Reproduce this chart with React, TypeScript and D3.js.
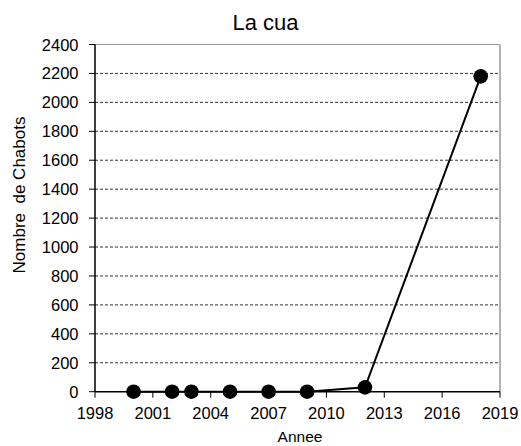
import React from "react";
import * as d3 from "d3";

const years = [2000, 2002, 2003, 2005, 2007, 2009, 2012, 2018];
const counts = [0, 0, 0, 0, 0, 0, 30, 2180];
const xTicks = [1998, 2001, 2004, 2007, 2010, 2013, 2016, 2019];
const yTicks = [0, 200, 400, 600, 800, 1000, 1200, 1400, 1600, 1800, 2000, 2200, 2400];

export default function App() {
  const W = 521, H = 446;
  const left = 95, right = 500, top = 44.5, bottom = 391.7;
  const x = d3.scaleLinear().domain([1998, 2019]).range([left, right]);
  const y = d3.scaleLinear().domain([0, 2400]).range([bottom, top]);
  const line = d3.line<number>().x((_, i) => x(years[i])).y((d) => y(d));
  const font = "Liberation Sans, Arial, sans-serif";
  return (
    <svg width={W} height={H} style={{ position: "absolute", left: 0, top: 0 }} fontFamily={font}>
      <rect width={W} height={H} fill="white" />
      <text x={265.5} y={30} textAnchor="middle" fontSize={22}>La cua</text>
      {yTicks.filter((t) => t > 0 && t < 2400).map((t) => (
        <line key={t} x1={left} x2={right} y1={y(t)} y2={y(t)} stroke="#000" strokeWidth={0.8} strokeDasharray="3,2" />
      ))}
      <line x1={left} x2={right} y1={top} y2={top} stroke="#999" strokeWidth={1.2} />
      <line x1={right} x2={right} y1={top} y2={bottom} stroke="#999" strokeWidth={1.5} />
      <line x1={left} x2={left} y1={top} y2={bottom} stroke="#000" strokeWidth={1.5} />
      <line x1={left} x2={right} y1={bottom} y2={bottom} stroke="#000" strokeWidth={1.5} />
      {yTicks.map((t) => (
        <g key={t}>
          <line x1={left - 6} x2={left} y1={y(t)} y2={y(t)} stroke="#000" />
          <text x={left - 16.5} y={y(t) + 6} textAnchor="end" fontSize={16.5}>{t}</text>
        </g>
      ))}
      {xTicks.map((t) => (
        <g key={t}>
          <line x1={x(t)} x2={x(t)} y1={bottom} y2={bottom + 6} stroke="#000" />
          <text x={x(t)} y={419} textAnchor="middle" fontSize={16.5}>{t}</text>
        </g>
      ))}
      <text x={300} y={442} textAnchor="middle" fontSize={15.5}>Annee</text>
      <text transform={`translate(25, 195) rotate(-90)`} textAnchor="middle" fontSize={17} style={{ whiteSpace: "pre" }}>{"Nombre  de Chabots"}</text>
      <path d={line(counts) || ""} fill="none" stroke="#000" strokeWidth={2} />
      {counts.map((c, i) => (
        <circle key={i} cx={x(years[i])} cy={y(c)} r={7.3} fill="#000" />
      ))}
    </svg>
  );
}
